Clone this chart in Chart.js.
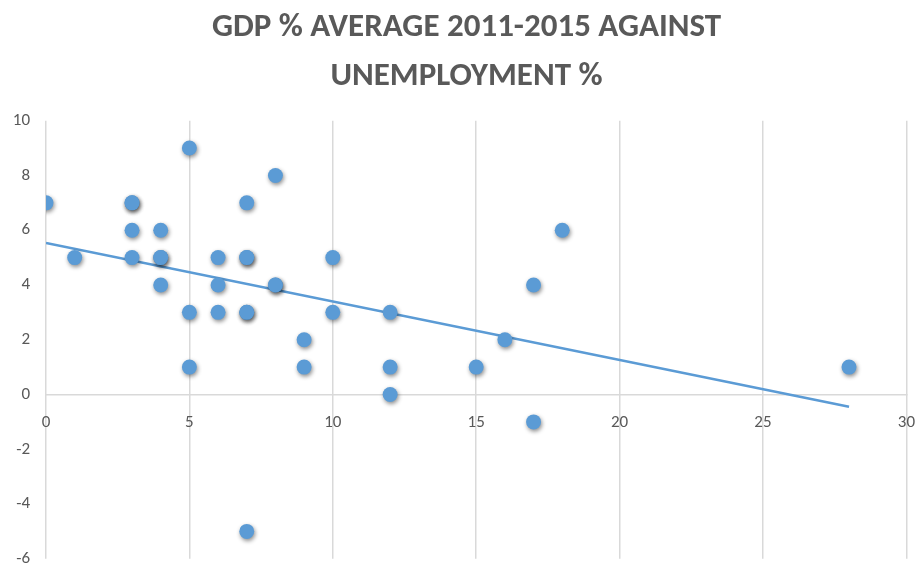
<!DOCTYPE html>
<html>
<head>
<meta charset="utf-8">
<script src="https://cdn.jsdelivr.net/npm/chart.js@4/dist/chart.umd.min.js"></script>
<style>
  html, body { margin: 0; padding: 0; background: #fff; overflow: hidden; }
  body { width: 915px; height: 565px; }
  #wrap { width: 933px; height: 585px; }
</style>
</head>
<body>
<div id="wrap"><canvas id="myChart"></canvas></div>
<script>
// Unemployment % (x) and GDP % average 2011-2015 (y)
const unemployment = [0, 1, 3, 3, 3, 3, 4, 4, 4, 4, 5, 5, 5, 6, 6, 6, 7, 7, 7, 7, 7, 7, 8, 8, 8, 9, 9, 10, 10, 12, 12, 12, 15, 16, 17, 17, 18, 28];
const gdpGrowth    = [7, 5, 7, 7, 6, 5, 6, 5, 5, 4, 9, 3, 1, 5, 4, 3, 7, 5, 5, 3, 3, -5, 8, 4, 4, 2, 1, 5, 3, 3, 1, 0, 1, 2, 4, -1, 6, 1];

// linear trendline end points (as drawn in the picture)
const trendX = [0, 28];
const trendY = [5.53, -0.45];

const xTicks = [0, 5, 10, 15, 20, 25, 30];
const yTicks = [-6, -4, -2, 0, 2, 4, 6, 8, 10];

const titleLines = ['GDP % AVERAGE 2011-2015 AGAINST', 'UNEMPLOYMENT %'];

const blue = '#5B9BD5';
const grey = '#595959';
const gridGrey = '#D9D9D9';
const fontFamily = 'Carlito, Lato, sans-serif';

// soft drop shadow under the markers, like the spreadsheet chart
const shadowPlugin = {
    id: 'markerShadow',
    beforeDatasetDraw(chart, args) {
        if (args.index !== 1) return;
        const ctx = chart.ctx;
        ctx.save();
        ctx.shadowColor = 'rgba(0,0,0,0.45)';
        ctx.shadowBlur = 4;
        ctx.shadowOffsetX = 1;
        ctx.shadowOffsetY = 2;
    },
    afterDatasetDraw(chart, args) {
        if (args.index !== 1) return;
        chart.ctx.restore();
    }
};

const ctx = document.getElementById('myChart').getContext('2d');
new Chart(ctx, {
    type: 'scatter',
    data: {
        datasets: [{
            type: 'line',
            label: 'Trend',
            data: trendX.map((x, i) => ({ x: x, y: trendY[i] })),
            borderColor: blue,
            borderWidth: 2.5,
            pointRadius: 0,
            fill: false,
            order: 2
        }, {
            label: 'Countries',
            data: unemployment.map((x, i) => ({ x: x, y: gdpGrowth[i] })),
            backgroundColor: blue,
            borderColor: blue,
            borderWidth: 0,
            pointRadius: 7.5,
            order: 1
        }]
    },
    options: {
        responsive: true,
        maintainAspectRatio: false,
        animation: false,
        layout: { padding: { left: 0, right: 0, top: 0, bottom: 0 } },
        plugins: {
            legend: { display: false },
            tooltip: { enabled: false },
            title: {
                display: true,
                text: titleLines,
                color: grey,
                font: { family: fontFamily, size: 33, weight: 'bold', lineHeight: 1.48 },
                padding: { top: 3, bottom: 20 }
            }
        },
        scales: {
            x: {
                type: 'linear',
                position: { y: 0 },
                min: 0,
                max: 30,
                afterBuildTicks: s => { s.ticks = xTicks.map(v => ({ value: v })); },
                grid: { color: gridGrey, lineWidth: 1.5, drawTicks: false },
                border: { color: gridGrey, width: 1.5 },
                ticks: { color: grey, font: { family: fontFamily, size: 17 }, padding: 18, maxRotation: 0 }
            },
            y: {
                type: 'linear',
                min: -6,
                max: 10,
                afterBuildTicks: s => { s.ticks = yTicks.map(v => ({ value: v })); },
                afterFit: s => { s.width = 46; },
                grid: { display: false, drawTicks: false },
                border: { display: false },
                ticks: { color: grey, font: { family: fontFamily, size: 17 }, padding: 16 }
            }
        }
    },
    plugins: [shadowPlugin]
});
</script>
</body>
</html>
